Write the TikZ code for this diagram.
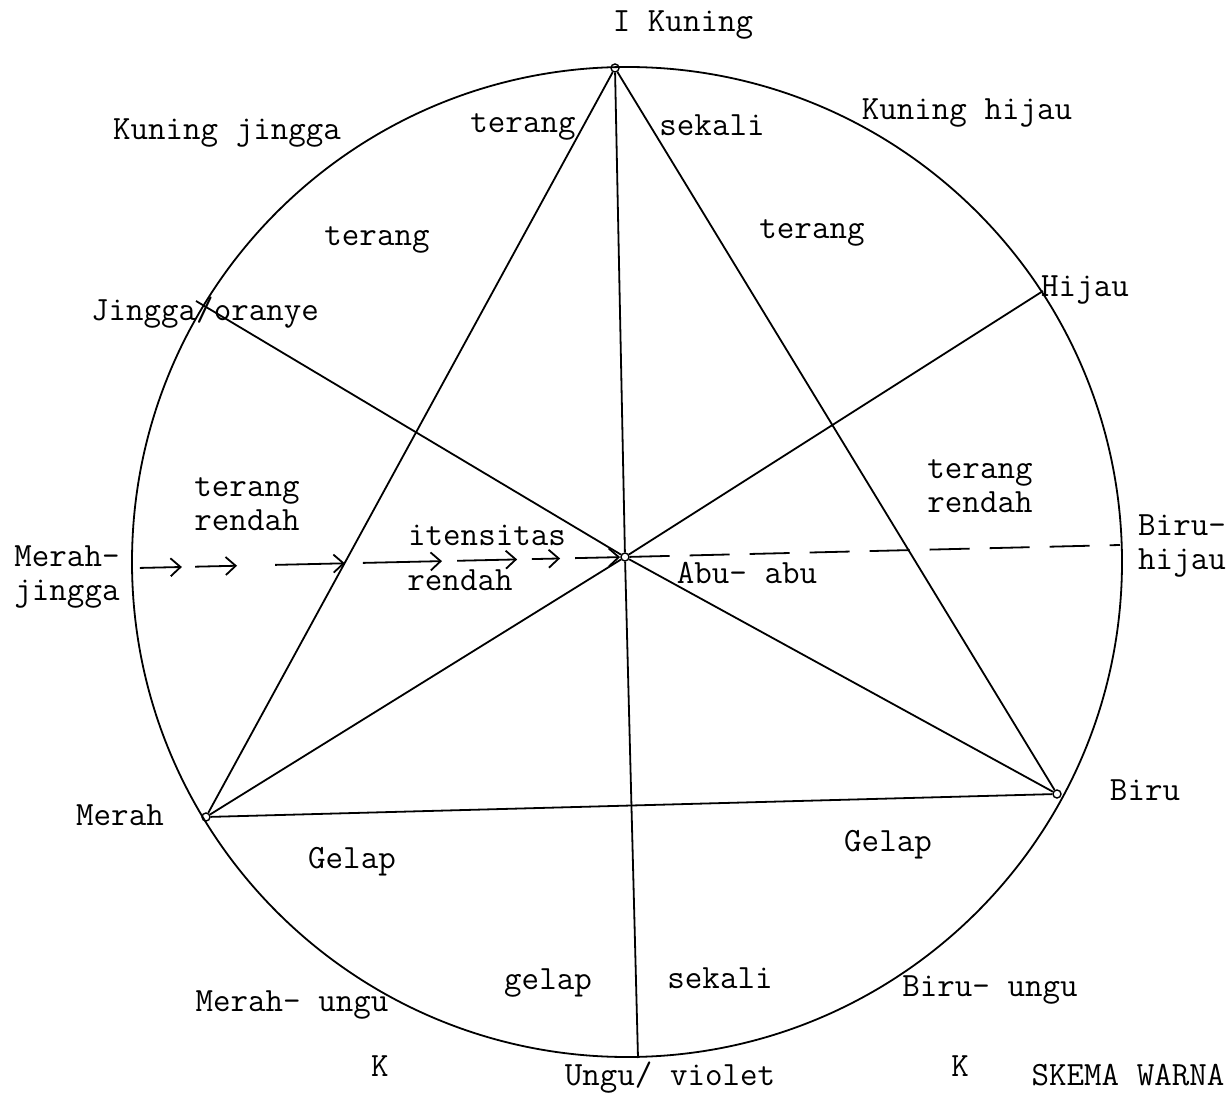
\documentclass[tikz,border=0pt]{standalone}
\usepackage{tikz}
\usetikzlibrary{arrows.meta,calc}

\begin{document}
\begin{tikzpicture}[
  x=0.5pt, y=-0.5pt, >={Straight Barb[length=5pt,width=9pt]},
  garis/.style={line width=0.9pt},
  lbl/.style={font=\fontsize{17}{17}\selectfont\ttfamily, align=center, inner sep=1pt},
  titik/.style={circle, draw, line width=0.7pt, inner sep=0pt, minimum size=4pt},
  putus/.style={garis, dash pattern=on 20pt off 10pt}
]
\useasboundingbox (0,0) rectangle (1232,1096);
% roda warna
\coordinate (pusatroda) at (627,562);
\draw[garis] (pusatroda) circle[radius=247.5pt];
% titik sudut
\node[titik] (kuning) at (615,68) {};
\node[titik] (merah)  at (206,817) {};
\node[titik] (biru)   at (1057,794) {};
\node[titik] (pusat)  at (625,557) {};
\coordinate (jingga) at (196,301);
\coordinate (hijau)  at (1043,291);
\coordinate (ungu)   at (638,1058);
\coordinate (mj)     at (137,568);
\coordinate (bh)     at (1120,545);
% segitiga dan jari-jari
\draw[garis] (merah) -- (kuning) -- (biru) -- (merah);
\draw[garis] (kuning) -- (pusat) -- (ungu);
\draw[garis] (jingga) -- (pusat);
\draw[garis] (hijau) -- (pusat);
\draw[garis] (merah) -- (pusat);
\draw[garis] (biru) -- (pusat);
% garis intensitas
\draw[putus] (pusat) -- (bh);
\foreach \a/\b in {0.006/0.092, 0.119/0.205, 0.283/0.426, 0.463/0.625,
                   0.656/0.779, 0.809/0.867, 0.898/0.99}
  \draw[garis, ->] ($(mj)!\a!(pusat)$) -- ($(mj)!\b!(pusat)$);
% label
\node[lbl] (lkuning)  at (683,25)   {I Kuning};
\node[lbl] (lkj)      at (227,133)  {Kuning jingga};
\node[lbl] (lter1)    at (523,127)  {terang};
\node[lbl] (lsek1)    at (712,125)  {sekali};
\node[lbl] (lkh)      at (967,113)  {Kuning hijau};
\node[lbl] (lter2)    at (377,240)  {terang};
\node[lbl] (lter3)    at (812,233)  {terang};
\node[lbl] (lhijau)   at (1085,290) {Hijau};
\node[lbl] (ljingga)  at (205,313)  {Jingga/oranye};
\node[lbl] (ltr1)     at (247,504)  {terang\\rendah};
\node[lbl] (ltr2)     at (980,486)  {terang\\rendah};
\node[lbl] (lbh)      at (1182,546) {Biru-\\hijau};
\node[lbl] (lmj)      at (67,577)   {Merah-\\jingga};
\node[lbl] (litens)   at (487,535)  {itensitas};
\node[lbl] (lrendah)  at (460,580)  {rendah};
\node[lbl] (labu)     at (747,573)  {Abu- abu};
\node[lbl] (lmerah)   at (120,815)  {Merah};
\node[lbl] (lbiru)    at (1145,790) {Biru};
\node[lbl] (lgel1)    at (352,862)  {Gelap};
\node[lbl] (lgel2)    at (888,845)  {Gelap};
\node[lbl] (lgel3)    at (548,983)  {gelap};
\node[lbl] (lsek2)    at (720,978)  {sekali};
\node[lbl] (lmu)      at (292,1005) {Merah- ungu};
\node[lbl] (lbu)      at (990,990)  {Biru- ungu};
\node[lbl] (lk1)      at (380,1066) {K};
\node[lbl] (lungu)    at (670,1078) {Ungu/ violet};
\node[lbl] (lk2)      at (960,1066) {K};
\node[lbl] (lskema)   at (1128,1075) {SKEMA WARNA};
\end{tikzpicture}
\end{document}
